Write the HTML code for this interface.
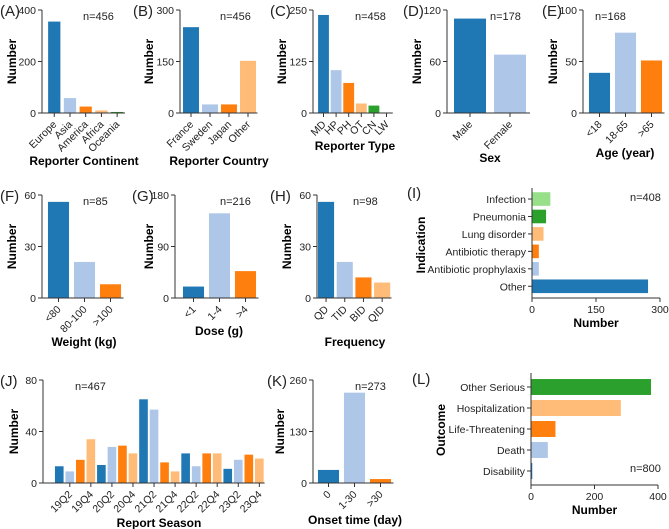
<!DOCTYPE html>
<html><head><meta charset="utf-8">
<style>
html,body{margin:0;padding:0;background:#fff;}
svg{display:block;font-family:"Liberation Sans",sans-serif;}
</style></head>
<body>
<svg id="fig" width="669" height="529" viewBox="0 0 669 529" xmlns="http://www.w3.org/2000/svg"></svg>
<script>
const C1='#1f77b4',C2='#aec7e8',C3='#ff7f0e',C4='#ffbb78',C5='#2ca02c',C6='#98df8a';
// Data arrays
const aCats=['Europe','Asia','America','Africa','Oceania'];
const aVals=[355,58,25,10,4];
const aTicks=[0,200,400];
const bCats=['France','Sweden','Japan','Other'];
const bVals=[250,25,25,152];
const bTicks=[0,150,300];
const cCats=['MD','HP','PH','OT','CN','LW'];
const cVals=[238,104,73,23,18,0];
const cTicks=[0,125,250];
const dCats=['Male','Female'];
const dVals=[110,68];
const dTicks=[0,60,120];
const eCats=['<18','18-65','>65'];
const eVals=[39,78,51];
const eTicks=[0,50,100];
const fCats=['<80','80-100','>100'];
const fVals=[56,21,8];
const fTicks=[0,30,60];
const gCats=['<1','1-4','>4'];
const gVals=[20,148,47];
const gTicks=[0,90,180];
const hCats=['QD','TID','BID','QID'];
const hVals=[56,21,12,9];
const hTicks=[0,30,60];
const iCats=['Infection','Pneumonia','Lung disorder','Antibiotic therapy','Antibiotic prophylaxis','Other'];
const iVals=[43,33,27,16,16,272];
const iTicks=[0,150,300];
const jCats=['19Q1','19Q2','19Q3','19Q4','20Q1','20Q2','20Q3','20Q4','21Q1','21Q2','21Q3','21Q4','22Q1','22Q2','22Q3','22Q4','23Q1','23Q2','23Q3','23Q4'];
const jVals=[13,9,18,34,14,28,29,23,65,57,16,9,23,13,23,23,11,18,22,19];
const jTicks=[0,40,80];
const kCats=['0','1-30','>30'];
const kVals=[33,228,10];
const kTicks=[0,130,260];
const lCats=['Other Serious','Hospitalization','Life-Threatening','Death','Disability'];
const lVals=[378,283,77,53,4];
const lTicks=[0,200,400];

const FS=10.5;
const svg=document.getElementById('fig');
const NS='http://www.w3.org/2000/svg';
function el(tag,attrs,parent){const e=document.createElementNS(NS,tag);for(const k in attrs)e.setAttribute(k,attrs[k]);(parent||svg).appendChild(e);return e;}
function txt(s,attrs,parent){const t=el('text',attrs,parent);t.textContent=s;return t;}

function vpanel(p){
  const g=el('g',{});
  
  
  const yv=v=>p.y0-v/p.max*(p.y0-p.yt);
  const n=p.cats.length,pitch=(p.xr-p.xl)/n,w=pitch*p.bw;
  p.vals.forEach((v,i)=>{
    const x=p.xl+i*pitch+(pitch-w)/2;
    const r=el('rect',{x:x,y:yv(v),width:w,height:p.y0-yv(v),fill:p.colors[i%p.colors.length]},g);
    
    
  });
  el('line',{x1:p.ax,y1:p.yt,x2:p.ax,y2:p.y0,stroke:'#333','stroke-width':1},g);
  el('line',{x1:p.ax,y1:p.y0,x2:p.xr,y2:p.y0,stroke:'#333','stroke-width':1},g);
  p.ticks.forEach(t=>{
    el('line',{x1:p.ax-4,y1:yv(t),x2:p.ax,y2:yv(t),stroke:'#333'},g);
    const tl=txt(String(t),{x:p.ax-6,y:yv(t)+4,'font-size':FS,'text-anchor':'end',fill:'#222'},g);
    
    
  });
  p.cats.forEach((c,i)=>{
    if(p.every && i%2===0) return;
    const cx=p.xl+i*pitch+pitch/2;
    el('line',{x1:cx,y1:p.y0,x2:cx,y2:p.y0+4,stroke:'#333'},g);
    const tl=txt(c,{x:cx+3,y:p.y0+12,'font-size':FS,'text-anchor':'end',fill:'#222',transform:`rotate(-45 ${cx+3} ${p.y0+12})`},g);
    
    
  });
  const yl=txt('Number',{x:p.ylx,y:(p.yt+p.y0)/2,'font-size':12,'font-weight':'bold','text-anchor':'middle',transform:`rotate(-90 ${p.ylx} ${(p.yt+p.y0)/2})`},g);
  
  
  const xt=txt(p.title,{x:p.tx,y:p.ty,'font-size':12,'font-weight':'bold','text-anchor':'middle'},g);
  
  
  const pl=txt(p.label,{x:p.lx,y:p.yt+6,'font-size':15,fill:'#222'},g);
  
  
  const nn=txt(p.n,{x:p.nx,y:p.yt+10,'font-size':11,fill:'#222'},g);
  
  
}

function hpanel(p){
  const g=el('g',{});
  
  
  const xv=v=>p.ax+v/p.max*(p.xm-p.ax);
  const n=p.cats.length,pitch=(p.yb-p.ytop)/n,h=pitch*p.bh;
  p.vals.forEach((v,i)=>{
    const y=p.ytop+i*pitch+(pitch-h)/2;
    const r=el('rect',{x:p.ax,y:y,width:xv(v)-p.ax,height:h,fill:p.colors[i]},g);
    
    
    const cy=p.ytop+i*pitch+pitch/2;
    el('line',{x1:p.ax-4,y1:cy,x2:p.ax,y2:cy,stroke:'#333'},g);
    const tl=txt(p.cats[i],{x:p.ax-6,y:cy+4,'font-size':FS,'text-anchor':'end',fill:'#222'},g);
    
    
  });
  el('line',{x1:p.ax,y1:p.axT,x2:p.ax,y2:p.axB,stroke:'#333'},g);
  el('line',{x1:p.ax,y1:p.axB,x2:p.xm,y2:p.axB,stroke:'#333'},g);
  p.ticks.forEach(t=>{
    el('line',{x1:xv(t),y1:p.axB,x2:xv(t),y2:p.axB+4,stroke:'#333'},g);
    const tl=txt(String(t),{x:xv(t),y:p.axB+15,'font-size':FS,'text-anchor':'middle',fill:'#222'},g);
    
    
  });
  const xt=txt('Number',{x:(p.ax+p.xm)/2,y:p.ty,'font-size':12,'font-weight':'bold','text-anchor':'middle'},g);
  
  
  const yl=txt(p.ytitle,{x:p.ylx,y:p.yly,'font-size':12,'font-weight':'bold','text-anchor':'middle',transform:`rotate(-90 ${p.ylx} ${p.yly})`},g);
  
  
  const pl=txt(p.label,{x:p.lx,y:p.ly,'font-size':15,fill:'#222'},g);
  
  
  const nn=txt(p.n,{x:p.nx,y:p.ny,'font-size':11,fill:'#222'},g);
  
  
}

vpanel({name:'panel-a-continent',cats:aCats,vals:aVals,ticks:aTicks,max:400,ax:42,xl:46.4,xr:125,yt:10,y0:113,bw:0.78,colors:[C1,C2,C3,C4,C5],ylx:16,title:'Reporter Continent',tx:84,ty:165,label:'(A)',lx:0,n:'n=456',nx:83});
vpanel({name:'panel-b-country',cats:bCats,vals:bVals,ticks:bTicks,max:300,ax:180,xl:181.5,xr:257.5,yt:10,y0:113,bw:0.84,colors:[C1,C2,C3,C4],ylx:153,title:'Reporter Country',tx:219,ty:165,label:'(B)',lx:133,n:'n=456',nx:220});
vpanel({name:'panel-c-reporter-type',cats:cCats,vals:cVals,ticks:cTicks,max:250,ax:313,xl:317.2,xr:392.8,yt:10,y0:113,bw:0.86,colors:[C1,C2,C3,C4,C5,C6],ylx:286,title:'Reporter Type',tx:355,ty:150,label:'(C)',lx:270,n:'n=458',nx:355});
vpanel({name:'panel-d-sex',cats:dCats,vals:dVals,ticks:dTicks,max:120,ax:447,xl:450,xr:530,yt:10,y0:113,bw:0.8,colors:[C1,C2],ylx:421,title:'Sex',tx:490,ty:162,label:'(D)',lx:403,n:'n=178',nx:490});
vpanel({name:'panel-e-age',cats:eCats,vals:eVals,ticks:eTicks,max:100,ax:583,xl:586.5,xr:664.5,yt:10,y0:113,bw:0.81,colors:[C1,C2,C3],ylx:557,title:'Age (year)',tx:625,ty:157,label:'(E)',lx:542,n:'n=168',nx:595});

vpanel({name:'panel-f-weight',cats:fCats,vals:fVals,ticks:fTicks,max:60,ax:42,xl:45.5,xr:123.5,yt:195,y0:298,bw:0.81,colors:[C1,C2,C3],ylx:16,title:'Weight (kg)',tx:84,ty:346,label:'(F)',lx:0,n:'n=85',nx:83});
vpanel({name:'panel-g-dose',cats:gCats,vals:gVals,ticks:gTicks,max:180,ax:175,xl:180.5,xr:258.5,yt:195,y0:298,bw:0.81,colors:[C1,C2,C3],ylx:153,title:'Dose (g)',tx:219,ty:335,label:'(G)',lx:132,n:'n=216',nx:220});
vpanel({name:'panel-h-frequency',cats:hCats,vals:hVals,ticks:hTicks,max:60,ax:317,xl:316.7,xr:391.5,yt:195,y0:298,bw:0.86,colors:[C1,C2,C3,C4],ylx:291,title:'Frequency',tx:355,ty:346,label:'(H)',lx:270,n:'n=98',nx:353});

hpanel({name:'panel-i-indication',cats:iCats,vals:iVals,ticks:iTicks,max:300,ax:532,xm:660,ytop:190.3,yb:295,axT:188,axB:298,bh:0.78,colors:[C6,C5,C4,C3,C2,C1],ty:327,ytitle:'Indication',ylx:425,yly:245,label:'(I)',lx:407,ly:198,n:'n=408',nx:630,ny:201});

vpanel({name:'panel-j-report-season',cats:jCats,vals:jVals,ticks:jTicks,max:80,ax:43,xl:54,xr:264.6,yt:380,y0:483,bw:0.82,colors:[C1,C2,C3,C4],every:true,ylx:18,title:'Report Season',tx:159,ty:527,label:'(J)',lx:0,n:'n=467',nx:75});
vpanel({name:'panel-k-onset-time',cats:kCats,vals:kVals,ticks:kTicks,max:260,ax:313,xl:315.5,xr:393.5,yt:380,y0:483,bw:0.81,colors:[C1,C2,C3],ylx:284,title:'Onset time (day)',tx:355,ty:524,label:'(K)',lx:267,n:'n=273',nx:355});

hpanel({name:'panel-l-outcome',cats:lCats,vals:lVals,ticks:lTicks,max:400,ax:531,xm:658,ytop:376.5,yb:481.5,axT:373,axB:485,bh:0.76,colors:[C5,C4,C3,C2,C1],ty:514,ytitle:'Outcome',ylx:445,yly:430,label:'(L)',lx:412,ly:384,n:'n=800',nx:630,ny:472});
</script>
</body></html>
